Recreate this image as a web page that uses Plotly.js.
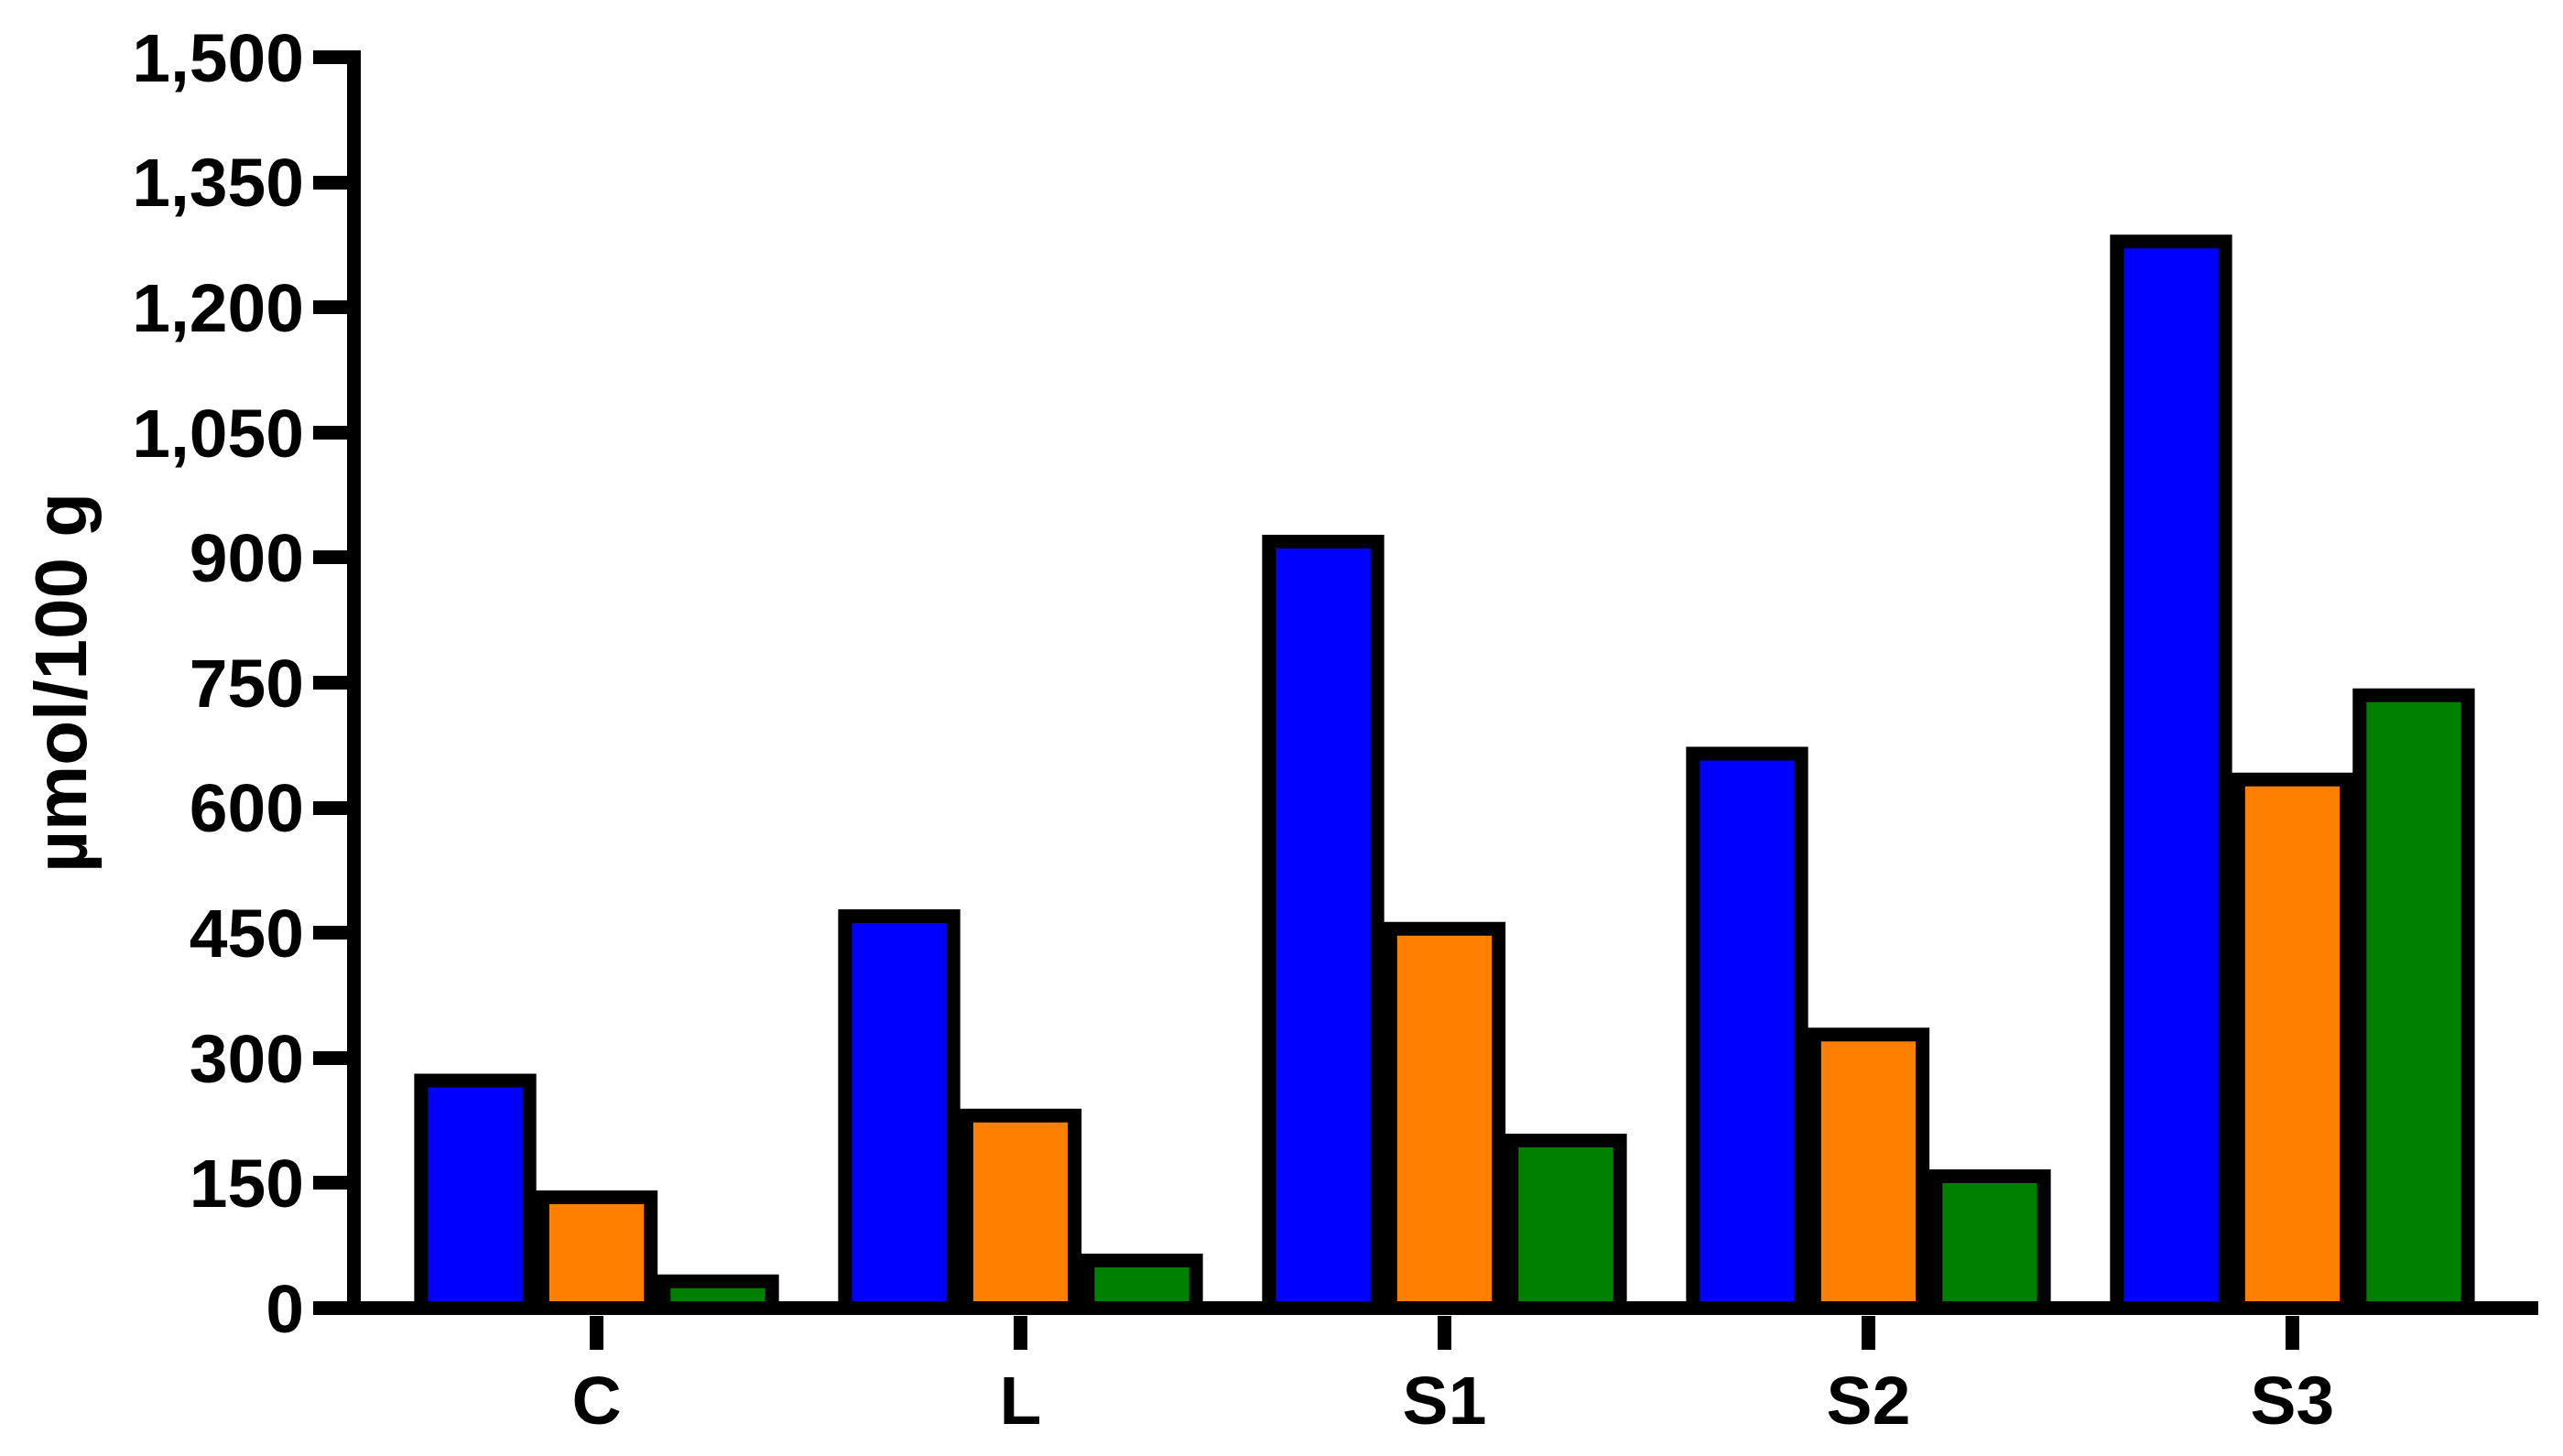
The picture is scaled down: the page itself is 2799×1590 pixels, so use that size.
<!DOCTYPE html>
<html>
<head>
<meta charset="utf-8">
<script src="https://cdn.plot.ly/plotly-3.0.1.min.js"></script>
<style>
  html, body { margin: 0; padding: 0; background: #ffffff; }
  #chart { width: 2799px; height: 1590px; }
</style>
</head>
<body>
<div id="chart"></div>
<script>
// Data
const categories = ["C", "L", "S1", "S2", "S3"];
const seriesBlue   = [273, 470, 919, 665, 1279];
const seriesOrange = [133, 231, 455, 328, 634];
const seriesGreen  = [32, 57, 201, 158, 735];
const yTitle = "µmol/100 g";

const FONT = "Liberation Sans, Arial, Helvetica, sans-serif";
const LW = 15;

function barTrace(name, values, color) {
  return {
    type: "bar",
    name: name,
    x: categories,
    y: values,
    marker: { color: color, line: { color: "#000000", width: LW } },
    hoverinfo: "skip"
  };
}

const data = [
  barTrace("Series 1", seriesBlue, "#0000FF"),
  barTrace("Series 2", seriesOrange, "#FF8000"),
  barTrace("Series 3", seriesGreen, "#008000")
];

const layout = {
  width: 2799,
  height: 1590,
  margin: { l: 394, r: 27, t: 55, b: 154, pad: 0 },
  paper_bgcolor: "#ffffff",
  plot_bgcolor: "#ffffff",
  showlegend: false,
  barmode: "group",
  bargap: 0.1415,
  bargroupgap: 0.107,
  font: { family: FONT, size: 75, color: "#000000", weight: 700 },
  xaxis: {
    type: "category",
    range: [-0.5562, 4.580],
    showline: false,
    showgrid: false,
    zeroline: false,
    ticks: "outside",
    ticklen: 37,
    tickwidth: LW,
    tickcolor: "#000000",
    ticklabelstandoff: -9,
    tickfont: { family: FONT, size: 75, color: "#000000", weight: 700 },
    fixedrange: true
  },
  yaxis: {
    range: [-8.24, 1508.24],
    tick0: 0,
    dtick: 150,
    tickformat: ",d",
    showline: true,
    linewidth: LW,
    linecolor: "#000000",
    showgrid: false,
    zeroline: true,
    zerolinewidth: LW,
    zerolinecolor: "#000000",
    ticks: "outside",
    ticklen: 37,
    tickwidth: LW,
    tickcolor: "#000000",
    ticklabelstandoff: -5,
    tickfont: { family: FONT, size: 75, color: "#000000", weight: 700 },
    automargin: false,
    title: {
      text: yTitle,
      font: { family: FONT, size: 80, color: "#000000", weight: 700 },
      standoff: 30
    },
    fixedrange: true
  }
};

Plotly.newPlot("chart", data, layout, { staticPlot: true, displayModeBar: false });
</script>
</body>
</html>
